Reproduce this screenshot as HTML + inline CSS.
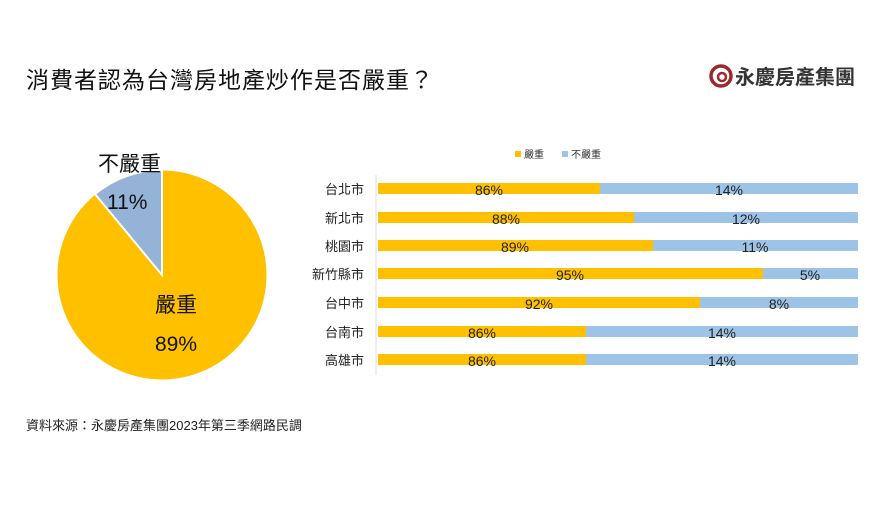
<!DOCTYPE html>
<html><head><meta charset="utf-8"><style>
body{margin:0;width:890px;height:500px;background:#fff;overflow:hidden;font-family:"Liberation Sans","Noto Sans CJK TC",sans-serif;}
</style></head><body>
<svg width="890" height="500" xmlns="http://www.w3.org/2000/svg" font-family="Liberation Sans, Noto Sans CJK TC, sans-serif">
<text x="26" y="88" font-size="23" fill="#111" letter-spacing="1">消費者認為台灣房地產炒作是否嚴重？</text>
<!-- logo -->
<circle cx="721" cy="76" r="10" fill="none" stroke="#9b2a2e" stroke-width="3.5"/>
<circle cx="722" cy="77" r="4" fill="none" stroke="#9b2a2e" stroke-width="2.5"/>
<text x="735" y="84" font-size="20" font-weight="bold" fill="#333">永慶房產集團</text>
<!-- pie -->
<circle cx="162" cy="275" r="105" fill="#FFC000" stroke="#fff" stroke-width="1"/>
<path d="M162,275 L162,170 A105,105 0 0 0 95,194 Z" fill="#95B3D7" stroke="#fff" stroke-width="2"/>
<text x="98" y="171" font-size="21" fill="#111">不嚴重</text>
<text x="107" y="209" font-size="21" fill="#111">11%</text>
<text x="155" y="312" font-size="21" fill="#111">嚴重</text>
<text x="155" y="351" font-size="21" fill="#111">89%</text>
<!-- legend -->
<rect x="515" y="151" width="6" height="6" fill="#FFC000"/>
<text x="524" y="158" font-size="10" fill="#333">嚴重</text>
<rect x="562" y="151" width="6" height="6" fill="#9DC3E6"/>
<text x="571" y="158" font-size="10" fill="#333">不嚴重</text>
<line x1="376" y1="175" x2="376" y2="375" stroke="#ddd"/>
<g font-size="14" fill="#222">
<rect x="378" y="183" width="222" height="11" fill="#FFC000"/><rect x="600" y="183" width="258" height="11" fill="#9DC3E6"/>
<text x="364" y="194" text-anchor="end" font-size="13">台北市</text><text x="489" y="195" text-anchor="middle">86%</text><text x="729" y="195" text-anchor="middle">14%</text>
<rect x="378" y="212" width="256" height="11" fill="#FFC000"/><rect x="634" y="212" width="224" height="11" fill="#9DC3E6"/>
<text x="364" y="223" text-anchor="end" font-size="13">新北市</text><text x="506" y="224" text-anchor="middle">88%</text><text x="746" y="224" text-anchor="middle">12%</text>
<rect x="378" y="240" width="275" height="11" fill="#FFC000"/><rect x="653" y="240" width="205" height="11" fill="#9DC3E6"/>
<text x="364" y="251" text-anchor="end" font-size="13">桃園市</text><text x="515" y="252" text-anchor="middle">89%</text><text x="755" y="252" text-anchor="middle">11%</text>
<rect x="378" y="268" width="385" height="11" fill="#FFC000"/><rect x="763" y="268" width="95" height="11" fill="#9DC3E6"/>
<text x="364" y="279" text-anchor="end" font-size="13">新竹縣市</text><text x="570" y="280" text-anchor="middle">95%</text><text x="810" y="280" text-anchor="middle">5%</text>
<rect x="378" y="297" width="322" height="11" fill="#FFC000"/><rect x="700" y="297" width="158" height="11" fill="#9DC3E6"/>
<text x="364" y="308" text-anchor="end" font-size="13">台中市</text><text x="539" y="309" text-anchor="middle">92%</text><text x="779" y="309" text-anchor="middle">8%</text>
<rect x="378" y="326" width="208" height="11" fill="#FFC000"/><rect x="586" y="326" width="272" height="11" fill="#9DC3E6"/>
<text x="364" y="337" text-anchor="end" font-size="13">台南市</text><text x="482" y="338" text-anchor="middle">86%</text><text x="722" y="338" text-anchor="middle">14%</text>
<rect x="378" y="354" width="208" height="11" fill="#FFC000"/><rect x="586" y="354" width="272" height="11" fill="#9DC3E6"/>
<text x="364" y="365" text-anchor="end" font-size="13">高雄市</text><text x="482" y="366" text-anchor="middle">86%</text><text x="722" y="366" text-anchor="middle">14%</text>
</g>
<text x="26" y="430" font-size="13" fill="#222">資料來源：永慶房產集團2023年第三季網路民調</text>
</svg>
</body></html>
